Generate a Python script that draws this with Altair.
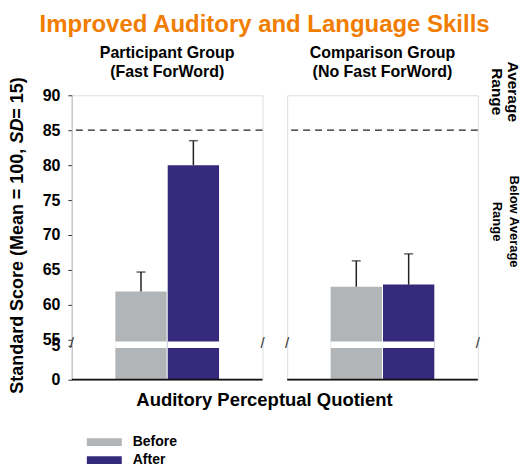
import altair as alt
import pandas as pd

# ---- data ----
groups = ["Participant Group|(Fast ForWord)", "Comparison Group|(No Fast ForWord)"]
conditions = ["Before", "After"]
participant_means = [61.9, 80.0]
participant_sd = [2.8, 3.5]
comparison_means = [62.6, 62.9]
comparison_sd = [3.7, 4.4]
y_ticks = [0, 5, 55, 60, 65, 70, 75, 80, 85, 90]
average_cutoff = 85
y_title_parts = ["Standard Score (Mean = 100, ", "SD", " = 15)"]
note_average = ["Average", "Range"]
note_below = ["Below Average", "Range"]
chart_title = "Improved Auditory and Language Skills"
x_title = "Auditory Perceptual Quotient"
colors = ["#B2B5B7", "#35297C"]

rows = []
for g, means, sds in zip(groups, [participant_means, comparison_means],
                         [participant_sd, comparison_sd]):
    for c, m, s in zip(conditions, means, sds):
        rows.append({"group": g, "condition": c, "score": m, "upper": m + s, "kind": "bar"})
rows.append({"group": groups[0], "kind": "ytitle"})
rows.append({"group": groups[1], "kind": "notes"})
df = pd.DataFrame(rows)

W, H = 191, 285
FONT = "Liberation Sans"

yscale = alt.Scale(domain=[0, 5, 55, 90], range=[H, 251, 245, 0], nice=False, zero=False)
xscale = alt.Scale(domain=conditions, paddingInner=0.02, paddingOuter=0.83)
yaxis = alt.Axis(values=y_ticks, title=None, grid=False, labelFontSize=16,
                 labelFontWeight="bold", labelColor="black", labelFont=FONT,
                 tickSize=4, tickColor="#333", domainColor="#333",
                 labelPadding=8, labelOverlap=False, labelFlush=False)

base = alt.Chart()
bar_base = base.transform_filter("datum.kind == 'bar'")

bars = bar_base.mark_bar().encode(
    x=alt.X("condition:N", scale=xscale, axis=None),
    y=alt.Y("score:Q", scale=yscale, axis=yaxis),
    color=alt.Color("condition:N", scale=alt.Scale(domain=conditions, range=colors),
                    legend=alt.Legend(title=None, orient="none", legendX=25.5,
                                      legendY=340.5, direction="vertical",
                                      symbolType="M-2.5,-0.55L2.5,-0.55L2.5,0.55L-2.5,0.55Z",
                                      symbolSize=196, symbolStrokeWidth=0,
                                      symbolOpacity=1, labelFontSize=14,
                                      labelFontWeight="bold", labelColor="black",
                                      labelFont=FONT, labelOffset=21.5, rowPadding=4)),
)

gap = bar_base.mark_bar(color="white").encode(
    x=alt.X("condition:N", scale=xscale, axis=None),
    y=alt.Y(datum=40.8, type="quantitative", axis=yaxis),
    y2=alt.Y2(datum=4.66),
)

whisker = bar_base.mark_rule(color="#222", strokeWidth=1.5).encode(
    x=alt.X("condition:N", scale=xscale, axis=None),
    y=alt.Y("score:Q", axis=yaxis), y2="upper:Q"
)
cap = bar_base.mark_tick(color="#222", thickness=1.5, size=9).encode(
    x=alt.X("condition:N", scale=xscale, axis=None),
    y=alt.Y("upper:Q", axis=yaxis)
)

first = bar_base.transform_filter("datum.condition == 'Before'")
dashed = first.mark_rule(color="#222", strokeDash=[7, 5], strokeWidth=1.2).encode(
    y=alt.Y(datum=average_cutoff, type="quantitative", axis=yaxis)
)
bottom = first.mark_rule(color="#111", strokeWidth=1.8).encode(
    y=alt.Y(datum=0, type="quantitative", axis=yaxis))
slash_l = first.mark_text(text="/", fontSize=15, color="#333").encode(
    x=alt.value(0), y=alt.Y(datum=30, type="quantitative", axis=yaxis))
slash_r = first.mark_text(text="/", fontSize=15, color="#333").encode(
    x=alt.value(W), y=alt.Y(datum=30, type="quantitative", axis=yaxis))

yt = base.transform_filter("datum.kind == 'ytitle'")
yt1 = yt.mark_text(angle=270, fontSize=18, fontWeight="bold", align="left",
                   baseline="middle", color="black", font=FONT).encode(
    x=alt.value(-54), y=alt.value(299), text=alt.value(y_title_parts[0]))
yt2 = yt.mark_text(angle=270, fontSize=18, fontWeight="bold", fontStyle="italic",
                   align="left", baseline="middle", color="black", font=FONT).encode(
    x=alt.value(-54), y=alt.value(299 - 250.6), text=alt.value(y_title_parts[1]))
yt3 = yt.mark_text(angle=270, fontSize=18, fontWeight="bold", align="left",
                   baseline="middle", color="black", font=FONT).encode(
    x=alt.value(-54), y=alt.value(299 - 250.6 - 25), text=alt.value(y_title_parts[2]))

nt = base.transform_filter("datum.kind == 'notes'")


def note(text, size, x, y):
    return nt.mark_text(angle=90, fontSize=size, fontWeight="bold", align="center",
                        baseline="middle", color="black", font=FONT).encode(
        x=alt.value(x), y=alt.value(y), text=alt.value(text))


notes = [
    note(note_average[0], 15.5, 226, -3.5),
    note(note_average[1], 15.5, 210, -3.5),
    note(note_below[0], 13, 227.5, 126.5),
    note(note_below[1], 13, 210.5, 126.5),
]

layered = alt.layer(bars, gap, whisker, cap, dashed, bottom, slash_l, slash_r,
                    yt1, yt2, yt3, *notes).properties(width=W, height=H)

chart = layered.facet(
    column=alt.Column("group:N", sort=groups, title=x_title,
                      header=alt.Header(labelOrient="top", titleOrient="bottom",
                                        labelExpr="split(datum.value, '|')",
                                        labelFontSize=16, labelFontWeight="bold",
                                        labelFont=FONT, labelColor="black",
                                        labelLineHeight=19, labelPadding=15,
                                        titleFontSize=18.5, titleFontWeight="bold",
                                        titleFont=FONT, titleColor="black",
                                        titlePadding=1)),
    spacing=24.7,
    bounds="flush",
    data=df,
).properties(
    title=alt.TitleParams(chart_title, fontSize=24, font=FONT, fontWeight="bold",
                          color="#F07D00", anchor="middle", offset=8),
    padding={"left": 0, "top": 5, "right": 0, "bottom": 0},
).configure_view(stroke="#555", strokeWidth=1).configure_axis(
    labelOverlap=False).configure(font=FONT)

chart.save("out.html", embed_options={"renderer": "svg", "actions": False})
